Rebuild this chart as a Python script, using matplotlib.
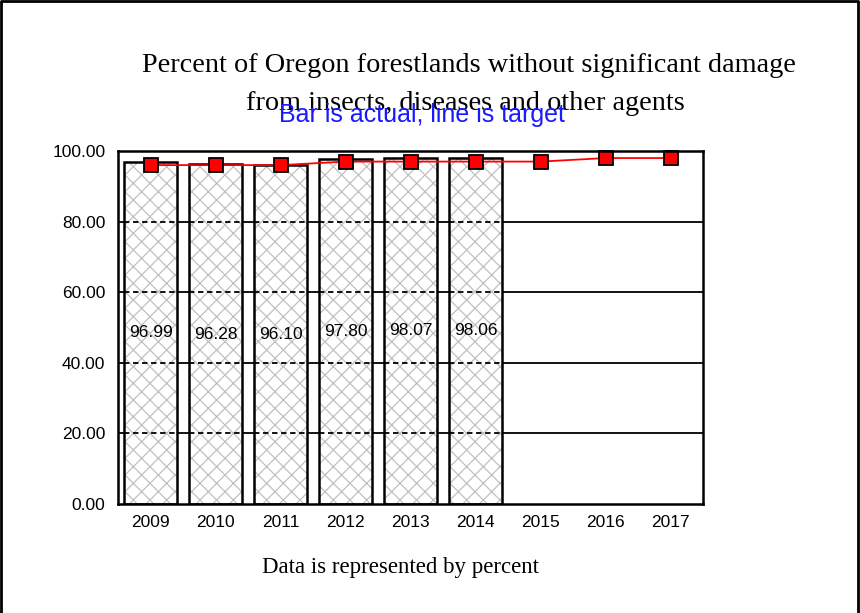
import matplotlib
matplotlib.use("Agg")
import matplotlib.pyplot as plt
import numpy as np

years = ["2009", "2010", "2011", "2012", "2013", "2014", "2015", "2016", "2017"]
actual = [96.99, 96.28, 96.10, 97.80, 98.07, 98.06]
target = [96, 96, 96, 97, 97, 97, 97, 98, 98]
yticks = [0, 20, 40, 60, 80, 100]

plt.rcParams['hatch.linewidth'] = 0.9
bar_w = 0.82

fig = plt.figure(figsize=(8.6, 6.13), dpi=100)
ax = fig.add_axes([118/860, 1-504/613, 585/860, 353/613])

x = np.arange(len(years))
xa = np.arange(len(actual))

for yv in yticks[1:-1]:
    ax.axhline(yv, color='black', lw=1.3, zorder=0.5)
ax.bar(xa, actual, width=bar_w, facecolor='white', edgecolor='#c0c0c0',
       lw=0, hatch='xx', zorder=1)
for yv in yticks[1:-1]:
    ax.hlines([yv]*len(xa), xa - bar_w/2, xa + bar_w/2, color='black', lw=1.3,
              linestyles=[(0, (3, 2))], zorder=2)
ax.bar(xa, actual, width=bar_w, facecolor='none', edgecolor='black',
       lw=1.8, zorder=3)

for xi, v in zip(xa, actual):
    ax.text(xi, v/2, f"{v:.2f}", ha='center', va='center', fontsize=12.5,
            family='Liberation Sans', zorder=5)

ax.plot(x, target, color='red', lw=1.3, marker='s', markersize=10.5,
        markerfacecolor='red', markeredgecolor='black', markeredgewidth=1.3,
        zorder=4, clip_on=False)

ax.set_xlim(-0.5, len(years)-0.5)
ax.set_ylim(0, 100)
ax.set_yticks(yticks)
ax.set_yticklabels([f"{v:.2f}" for v in yticks], family='Liberation Sans', fontsize=12.5)
ax.set_xticks(x)
ax.set_xticklabels(years, family='Liberation Sans', fontsize=12.5)
ax.tick_params(axis='y', length=0, pad=9)
ax.tick_params(axis='x', length=0, pad=8)
for s in ax.spines.values():
    s.set_linewidth(1.8)
    s.set_zorder(6)

fig.text(469/860, 1-72/613, "Percent of Oregon forestlands without significant damage",
         ha='center', va='baseline', fontsize=20.3, family='Liberation Serif')
fig.text(465/860, 1-110/613, "from insects, diseases and other agents",
         ha='center', va='baseline', fontsize=20.3, family='Liberation Serif')
fig.text(422/860, 1-122/613, "Bar is actual, line is target", ha='center', va='baseline',
         fontsize=18, color='#1a1aff', family='Liberation Sans')
fig.text(400/860, 1-567/613, "Data is represented by percent", ha='center', va='center',
         fontsize=16.5, family='Liberation Serif')

fig.add_artist(plt.Line2D([1/860, 1/860, 858/860, 858/860], [0, 1-1/613, 1-1/613, 0],
                          transform=fig.transFigure, color='black', lw=2))

fig.savefig("out.png", dpi=100)
